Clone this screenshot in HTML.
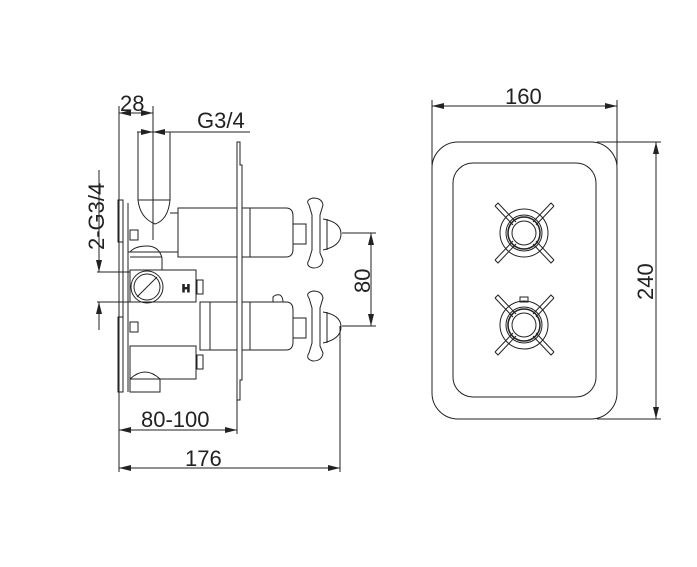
<!DOCTYPE html>
<html><head><meta charset="utf-8"><style>
html,body{margin:0;padding:0;background:#fff;}
svg{display:block;}
text{font-family:"Liberation Sans",sans-serif;font-size:22px;fill:#222;}
</style></head><body>
<svg width="697" height="567" viewBox="0 0 697 567" xmlns="http://www.w3.org/2000/svg">
<defs>
<marker id="a" viewBox="0 0 12 6" refX="12" refY="3" markerWidth="12" markerHeight="6" orient="auto-start-reverse" markerUnits="userSpaceOnUse"><path d="M0,0 L12,3 L0,6 z" fill="#222"/></marker>
</defs>
<g fill="none" stroke="#222" stroke-width="1">
<line x1="119" y1="113" x2="153" y2="113" marker-start="url(#a)" marker-end="url(#a)"/>
<line x1="119" y1="106" x2="119" y2="472"/>
<line x1="153" y1="106" x2="153" y2="240"/>
<line x1="137" y1="132" x2="250" y2="132"/>
<line x1="137" y1="132" x2="153" y2="132" marker-end="url(#a)"/>
<line x1="170" y1="132" x2="153" y2="132" marker-end="url(#a)"/>
<line x1="138" y1="132" x2="138" y2="200"/>
<line x1="170" y1="132" x2="170" y2="200"/>
<path d="M138,200 L170,200 M138,200 Q140,218 155,224 Q168,220 170,200"/>
<path d="M170,213 L178,213"/>
<path d="M237,142 L240,142 L240,165 L242,165 L242,380 L240,380 L240,400 L237,400 Z"/>
<line x1="123" y1="200" x2="123" y2="392"/>
<line x1="128" y1="203" x2="128" y2="392"/>
<rect x="118" y="200" width="5" height="42"/>
<rect x="118" y="317" width="5" height="75"/>
<rect x="130" y="230" width="8" height="10"/>
<rect x="130" y="322" width="8" height="10"/>
<rect x="178" y="208" width="59" height="49"/>
<line x1="128" y1="252" x2="178" y2="252"/>
<path d="M242,208 L286,208 Q293,208 293,216 L293,249 Q293,257 286,257 L242,257"/>
<line x1="250" y1="208" x2="250" y2="257"/>
<path d="M130,252 Q135,246 147,246 Q159,246 162,258 L162,270"/>
<line x1="130" y1="257" x2="162" y2="257"/>
<rect x="130" y="270" width="66" height="32"/>
<circle cx="147" cy="287" r="16"/>
<circle cx="147" cy="287" r="13"/>
<line x1="137" y1="297" x2="157" y2="277"/>
<rect x="197" y="280" width="6" height="14"/>
<text x="182" y="292" style="font-size:11px;font-weight:bold">H</text>
<rect x="200" y="302" width="37" height="48"/>
<rect x="210" y="302" width="27" height="48"/>
<path d="M242,302 L286,302 Q293,302 293,310 L293,342 Q293,350 286,350 L242,350"/>
<line x1="250" y1="302" x2="250" y2="350"/>
<path d="M273,302 L273,297 Q276,294 280,295 Q283,297 283,302"/>
<rect x="130" y="346" width="66" height="33"/>
<rect x="197" y="355" width="6" height="14"/>
<path d="M130,379 L130,392 L160,392 L160,379 M130,379 Q145,365 160,379"/>
<rect x="293" y="224" width="13" height="20"/>
<rect x="293" y="318" width="13" height="20"/>
<path d="M309,205 Q305,200 313,198 Q322,198 323,205 L320,215 L320,253 L323,260 Q322,268 313,268 Q305,266 309,260 L312,250 L312,215 Z"/>
<path d="M309,298 Q305,293 313,291 Q322,291 323,298 L320,308 L320,346 L323,353 Q322,361 313,361 Q305,359 309,353 L312,343 L312,308 Z"/>
<path d="M323,219 Q341,222 341,234 Q341,246 323,250"/>
<line x1="327" y1="219" x2="327" y2="250"/>
<path d="M323,312 Q341,315 341,327 Q341,339 323,343"/>
<line x1="327" y1="312" x2="327" y2="343"/>
<line x1="342" y1="233" x2="376" y2="233"/>
<line x1="342" y1="326" x2="376" y2="326"/>
<line x1="371" y1="233" x2="371" y2="326" marker-start="url(#a)" marker-end="url(#a)"/>
<line x1="340" y1="326" x2="340" y2="472"/>
<line x1="97" y1="272" x2="130" y2="272"/>
<line x1="97" y1="302" x2="130" y2="302"/>
<line x1="99" y1="170" x2="99" y2="272" />
<line x1="99" y1="255" x2="99" y2="272" marker-end="url(#a)"/>
<line x1="99" y1="320" x2="99" y2="302" marker-end="url(#a)"/>
<line x1="99" y1="302" x2="99" y2="330"/>
<line x1="119" y1="430" x2="237" y2="430" marker-start="url(#a)" marker-end="url(#a)"/>
<line x1="237" y1="400" x2="237" y2="434"/>
<line x1="119" y1="468" x2="340" y2="468" marker-start="url(#a)" marker-end="url(#a)"/>
<rect x="432" y="142" width="185" height="277" rx="26"/>
<rect x="453" y="163" width="143" height="234" rx="20"/>
<line x1="432" y1="100" x2="432" y2="165"/>
<line x1="617" y1="100" x2="617" y2="165"/>
<line x1="432" y1="106" x2="617" y2="106" marker-start="url(#a)" marker-end="url(#a)"/>
<line x1="597" y1="142" x2="661" y2="142"/>
<line x1="597" y1="419" x2="661" y2="419"/>
<line x1="656" y1="142" x2="656" y2="419" marker-start="url(#a)" marker-end="url(#a)"/>
<g id="k">
<circle cx="524" cy="233" r="24"/>
<circle cx="524" cy="233" r="18"/>
<circle cx="524" cy="233" r="16" stroke-width="1.5"/>
<circle cx="524" cy="233" r="12"/>
<path d="M495,206 L498,203 L516,222 M533,222 L551,203 L554,206 M495,260 L498,263 L516,244 M533,244 L551,263 L554,260"/>
<path d="M495,206 L513,225 M554,206 L536,225 M495,260 L513,241 M554,260 L536,241"/>
</g>
<use href="#k" y="92"/>
<rect x="520" y="297" width="8" height="5"/>
</g>
<g>
<text x="120" y="111">28</text>
<text x="197" y="128">G3/4</text>
<text x="104" y="250" transform="rotate(-90 104 250)">2-G3/4</text>
<text x="370" y="293" transform="rotate(-90 370 293)">80</text>
<text x="141" y="427">80-100</text>
<text x="185" y="466">176</text>
<text x="505" y="104">160</text>
<text x="653" y="300" transform="rotate(-90 653 300)">240</text>
</g>
</svg>
</body></html>
